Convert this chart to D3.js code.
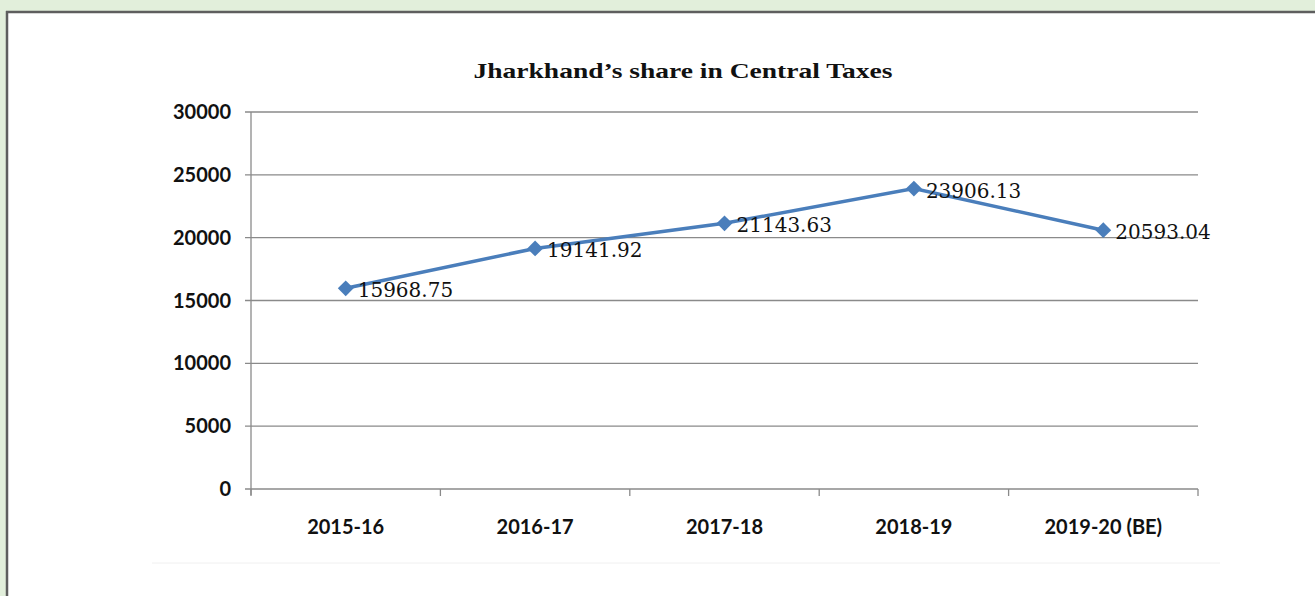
<!DOCTYPE html>
<html>
<head>
<meta charset="utf-8">
<script src="https://cdn.jsdelivr.net/npm/d3@7"></script>
<style>
  html, body { margin: 0; padding: 0; background: #e2efdb; }
  svg { display: block; }
</style>
</head>
<body>
<script>
var years = ["2015-16", "2016-17", "2017-18", "2018-19", "2019-20 (BE)"];
var shares = [15968.75, 19141.92, 21143.63, 23906.13, 20593.04];
var yTicks = [0, 5000, 10000, 15000, 20000, 25000, 30000];

function init() {
    var w = 1315;
    var h = 596;
    var svg = d3.select("body").append("svg").attr("width", w).attr("height", h);

    // white panel with dark frame on left and top
    svg.append("rect").attr("x", 7).attr("y", 12).attr("width", w).attr("height", h).attr("fill", "white");
    svg.append("line").attr("x1", 7).attr("x2", 7).attr("y1", 11).attr("y2", h)
        .attr("stroke", "#5e5e5e").attr("stroke-width", 2.5);
    svg.append("line").attr("x1", 6).attr("x2", w).attr("y1", 12).attr("y2", 12)
        .attr("stroke", "#5e5e5e").attr("stroke-width", 2.5);

    // faint edge of the pasted chart image
    svg.append("line").attr("x1", 152).attr("x2", 1220).attr("y1", 563).attr("y2", 563)
        .attr("stroke", "#f0f0f0").attr("stroke-width", 1);

    var left = 251, right = 1198, top = 112, bottom = 489;

    var x = d3.scaleBand().domain(years).range([left, right]);
    var y = d3.scaleLinear().domain([0, 30000]).range([bottom, top]);

    // gridlines
    svg.append("g").selectAll("line")
        .data(yTicks)
        .enter()
        .append("line")
        .attr("x1", left - 6)
        .attr("x2", right)
        .attr("y1", function (d) { return y(d); })
        .attr("y2", function (d) { return y(d); })
        .attr("stroke", "#8a8a8a")
        .attr("stroke-width", 1.3);

    // y axis line
    svg.append("line").attr("x1", left).attr("x2", left).attr("y1", top).attr("y2", bottom + 6)
        .attr("stroke", "#8a8a8a").attr("stroke-width", 1.3);

    // x axis tick marks at band boundaries
    var bounds = years.map(function (d) { return x(d); }).concat([right]);
    svg.append("g").selectAll("line")
        .data(bounds)
        .enter()
        .append("line")
        .attr("x1", function (d) { return d; })
        .attr("x2", function (d) { return d; })
        .attr("y1", bottom)
        .attr("y2", bottom + 7)
        .attr("stroke", "#8a8a8a")
        .attr("stroke-width", 1.3);

    // y tick labels
    svg.append("g").selectAll("text")
        .data(yTicks)
        .enter()
        .append("text")
        .attr("x", 231)
        .attr("y", function (d) { return y(d) + 7; })
        .attr("text-anchor", "end")
        .style("font-family", "Lato")
        .style("font-weight", "bold")
        .style("font-size", "20px")
        .attr("fill", "#111")
        .text(function (d) { return d; });

    // x labels
    svg.append("g").selectAll("text")
        .data(years)
        .enter()
        .append("text")
        .attr("x", function (d) { return x(d) + x.bandwidth() / 2; })
        .attr("y", 534)
        .attr("text-anchor", "middle")
        .style("font-family", "Lato")
        .style("font-weight", "bold")
        .style("font-size", "20px")
        .attr("fill", "#111")
        .text(function (d) { return d; });

    var pts = years.map(function (d, i) {
        return { cx: x(d) + x.bandwidth() / 2, cy: y(shares[i]), v: shares[i] };
    });

    var line = d3.line().x(function (d) { return d.cx; }).y(function (d) { return d.cy; });
    svg.append("path")
        .datum(pts)
        .attr("d", line)
        .attr("fill", "none")
        .attr("stroke", "#4a7ebb")
        .attr("stroke-width", 3.5);

    // square diamonds
    svg.append("g").selectAll("path")
        .data(pts)
        .enter()
        .append("path")
        .attr("d", d3.symbol().type(d3.symbolSquare).size(125))
        .attr("transform", function (d) { return "translate(" + d.cx + "," + d.cy + ") rotate(45)"; })
        .attr("fill", "#4a7ebb");

    svg.append("g").selectAll("text")
        .data(pts)
        .enter()
        .append("text")
        .attr("x", function (d) { return d.cx + 12; })
        .attr("y", function (d) { return d.cy + 9; })
        .style("font-family", "DejaVu Serif")
        .style("font-size", "20px")
        .attr("fill", "#111")
        .text(function (d) { return d.v.toFixed(2); });

    svg.append("text")
        .attr("x", 683)
        .attr("y", 78)
        .attr("text-anchor", "middle")
        .attr("textLength", 419)
        .attr("lengthAdjust", "spacingAndGlyphs")
        .style("font-family", "Liberation Serif")
        .style("font-weight", "bold")
        .style("font-size", "22px")
        .attr("fill", "#111")
        .text("Jharkhand\u2019s share in Central Taxes");
}

window.onload = init;
</script>
</body>
</html>
